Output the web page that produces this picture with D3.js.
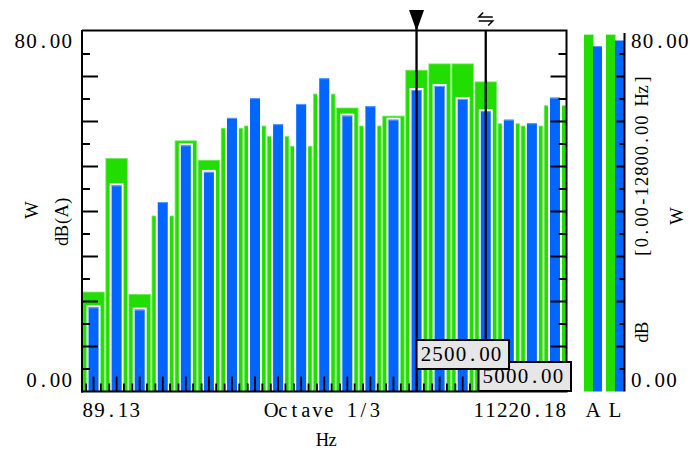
<!DOCTYPE html>
<html>
<head>
<meta charset="utf-8">
<script src="https://cdn.jsdelivr.net/npm/d3@7"></script>
<style>
  html, body { margin: 0; padding: 0; background: #fff; }
  svg { display: block; }
  text { font-family: "Liberation Serif", "DejaVu Serif", serif; fill: #000; }
</style>
</head>
<body>
<svg id="chart" width="690" height="453"></svg>
<script>
// 1/3-octave band centre frequencies (Hz)
const bands = ["100", "125", "160", "200", "250", "315", "400", "500", "630", "800",
               "1000", "1250", "1600", "2000", "2500", "3150", "4000", "5000", "6300", "8000", "10000"];
// band levels, dB (wide green series)
const levelGreen = [22.1, 51.8, 21.6, 39.0, 55.7, 51.4, 58.5, 59.0, 56.7, 54.5,
                    66.1, 63.0, 59.0, 61.2, 71.4, 72.8, 72.8, 68.8, 59.5, 59.0, 63.5];
// band levels, dB (narrow blue series)
const levelBlue = [18.7, 45.8, 18.2, 42.1, 54.7, 48.8, 60.8, 65.2, 59.4, 63.9,
                   69.6, 61.3, 63.4, 60.4, 67.0, 67.9, 65.0, 62.3, 60.4, 59.6, 65.3];

// overall levels over the whole range
const totalGroups = ["A", "L"];
const totalGreen = [79.3, 79.3];
const totalBlue = [76.7, 78.0];

// axis labels
const yTickLabels = ["0.00", "80.00"];
const xEdgeLabels = ["89.13", "11220.18"];
const xCenterLabel = "Octave 1/3";
const xTitle = "Hz";
const leftTitles = ["W", "dB(A)"];
const rightTitles = ["dB", "[0.00-12800.00 Hz]", "W"];

// cursors
const cursorBands = ["2500", "5000"];
const cursorLabels = ["2500.00", "5000.00"];

const GREEN = "#22dd00";
const BLUE = "#0066ff";

const svg = d3.select("#chart");
svg.append("rect").attr("width", 690).attr("height", 453).attr("fill", "#fff");

// Text laid out on a fixed character grid (every glyph centred in its own cell).
function cellText(parent, str, x0, y0, size, cell, anchor, transform) {
  const n = str.length;
  const start = anchor === "end" ? x0 - n * cell : anchor === "middle" ? x0 - n * cell / 2 : x0;
  const xs = Array.from(str, (_, i) => (start + (i + 0.5) * cell).toFixed(2));
  const t = parent.append("text")
    .attr("x", xs.join(" "))
    .attr("y", y0)
    .attr("text-anchor", "middle")
    .attr("font-size", size)
    .text(str);
  if (transform) t.attr("transform", transform).attr("dominant-baseline", "central");
  return t;
}
const NUM_SIZE = 21, NUM_CELL = 11.7;
const TITLE_SIZE = 18.5, TITLE_CELL = 10.2;

const plotL = 82, plotR = 566.5, plotT = 31.5, plotB = 391.5;

const x = d3.scaleBand().domain(bands).range([plotL, plotR]).padding(0);
const y = d3.scaleLinear().domain([0, 80]).range([plotB, plotT]);
const bw = x.bandwidth();
const cx = b => x(b) + bw / 2;

const rows = bands.map((b, i) => ({ b, g: levelGreen[i], l: levelBlue[i] }));

// green bars (full band width)
svg.append("g").selectAll("rect").data(rows).join("rect")
  .attr("x", d => x(d.b) + 0.8)
  .attr("width", bw - 1.6)
  .attr("y", d => y(d.g))
  .attr("height", d => plotB - y(d.g))
  .attr("fill", GREEN)
  .attr("stroke", "#74ea62")
  .attr("stroke-width", 0.8);

// white halo behind the blue bars
svg.append("g").selectAll("rect").data(rows).join("rect")
  .attr("x", d => cx(d.b) - 7)
  .attr("width", 14)
  .attr("y", d => y(d.l) - 2)
  .attr("height", d => plotB - y(d.l) + 2)
  .attr("fill", "#fff");

// blue bars (narrow, centred)
svg.append("g").selectAll("rect").data(rows).join("rect")
  .attr("x", d => cx(d.b) - 5)
  .attr("width", 10)
  .attr("y", d => y(d.l))
  .attr("height", d => plotB - y(d.l))
  .attr("fill", BLUE);
svg.append("g").selectAll("line").data(rows).join("line")
  .attr("x1", d => cx(d.b) - 5).attr("x2", d => cx(d.b) + 5)
  .attr("y1", d => y(d.l) + 0.5).attr("y2", d => y(d.l) + 0.5)
  .attr("stroke", "#5c9dff").attr("stroke-width", 1);

// frame
const frame = svg.append("g").attr("stroke", "#000").attr("stroke-width", 2).attr("fill", "none");
frame.append("path").attr("d", `M${plotL},30.5 H${plotR} V${plotB}`);
frame.append("line").attr("x1", plotL).attr("x2", plotL).attr("y1", 30).attr("y2", plotB + 1);
frame.append("line").attr("x1", plotL - 1).attr("x2", plotR + 1).attr("y1", plotB).attr("y2", plotB);

// y ticks inside the frame, left and right
const yTicks = d3.range(5, 80, 5);
const tickLen = v => (v % 10 === 0 ? 16 : 8);
svg.append("g").selectAll("line").data(yTicks).join("line")
  .attr("x1", plotL).attr("x2", v => plotL + tickLen(v))
  .attr("y1", v => y(v)).attr("y2", v => y(v))
  .attr("stroke", "#000").attr("stroke-width", 2);
svg.append("g").selectAll("line").data(yTicks).join("line")
  .attr("x1", plotR).attr("x2", v => plotR - tickLen(v))
  .attr("y1", v => y(v)).attr("y2", v => y(v))
  .attr("stroke", "#000").attr("stroke-width", 2);

// x ticks: band centre (long) and two short ones either side
const xTicks = [];
bands.forEach(b => {
  xTicks.push({ x: cx(b), len: 15 });
  xTicks.push({ x: cx(b) - 7.3, len: 8 });
  xTicks.push({ x: cx(b) + 7.3, len: 8 });
});
svg.append("g").selectAll("line").data(xTicks).join("line")
  .attr("x1", d => d.x).attr("x2", d => d.x)
  .attr("y1", plotB).attr("y2", d => plotB - d.len)
  .attr("stroke", "#000").attr("stroke-width", 1.8);

const labels = svg.append("g");

// y labels
cellText(labels, yTickLabels[0], 72.5, 387, NUM_SIZE, NUM_CELL, "end");
cellText(labels, yTickLabels[1], 72.5, 48, NUM_SIZE, NUM_CELL, "end");

// left titles (rotated)
cellText(labels, leftTitles[0], 0, 0, TITLE_SIZE, TITLE_CELL, "middle", "translate(32,210) rotate(-90)");
cellText(labels, leftTitles[1], 0, 0, TITLE_SIZE, TITLE_CELL, "middle", "translate(62,221) rotate(-90)");

// x labels
cellText(labels, xEdgeLabels[0], plotL, 416.5, NUM_SIZE, NUM_CELL, "start");
cellText(labels, xEdgeLabels[1], plotR, 416.5, NUM_SIZE, NUM_CELL, "end");
cellText(labels, xCenterLabel, 323, 416.5, 20.5, 11.5, "middle");
cellText(labels, xTitle, 327.5, 446, TITLE_SIZE, TITLE_CELL, "middle");

// cursors
const boxW = 92.5, boxH = 29, boxLimit = 571;
const cursorG = svg.append("g");
cursorBands.forEach((b, i) => {
  cursorG.append("line")
    .attr("x1", cx(b)).attr("x2", cx(b))
    .attr("y1", i === 0 ? 12 : 30).attr("y2", plotB)
    .attr("stroke", "#000").attr("stroke-width", 2.3);
});
// cursor markers
const c0 = cx(cursorBands[0]);
cursorG.append("path")
  .attr("d", `M${c0 - 7.5},10 L${c0 + 7.5},10 L${c0},31 Z`).attr("fill", "#000");
const c1 = cx(cursorBands[1]);
cursorG.append("path")
  .attr("d", `M${c1 - 2.5},12.5 L${c1 - 7},17 L${c1 + 7},17 M${c1 - 7},21 L${c1 + 7},21 L${c1 + 2.5},25.5`)
  .attr("fill", "none").attr("stroke", "#000").attr("stroke-width", 1.5);

// value boxes, drawn back to front
d3.range(cursorBands.length).reverse().forEach(i => {
  const bx = Math.min(cx(cursorBands[i]), boxLimit - boxW);
  const by = 340 + i * 22;
  cursorG.append("rect").attr("x", bx).attr("y", by).attr("width", boxW).attr("height", boxH)
    .attr("fill", "#e6e6e6").attr("stroke", "#000").attr("stroke-width", 2);
  cellText(cursorG, cursorLabels[i], bx + 3.5, by + 20.5, NUM_SIZE, NUM_CELL, "start");
});

// overall-level panel
const px = d3.scaleBand().domain(totalGroups).range([584, 624]).paddingInner(0.18).paddingOuter(0);
const pw = px.bandwidth();
const totals = totalGroups.map((g, i) => ({ g, a: totalGreen[i], l: totalBlue[i] }));
svg.append("g").selectAll("rect").data(totals).join("rect")
  .attr("x", d => px(d.g)).attr("width", pw / 2 + 0.5)
  .attr("y", d => y(d.a)).attr("height", d => plotB - y(d.a))
  .attr("fill", GREEN);
svg.append("g").selectAll("rect").data(totals).join("rect")
  .attr("x", d => px(d.g) + pw / 2).attr("width", pw / 2)
  .attr("y", d => y(d.l)).attr("height", d => plotB - y(d.l))
  .attr("fill", BLUE);

const axR = 624.5;
svg.append("line").attr("x1", axR).attr("x2", axR).attr("y1", 33).attr("y2", plotB)
  .attr("stroke", "#000").attr("stroke-width", 2);
svg.append("g").selectAll("line").data(yTicks).join("line")
  .attr("x1", axR).attr("x2", v => axR - (v % 10 === 0 ? 8 : 5))
  .attr("y1", v => y(v)).attr("y2", v => y(v))
  .attr("stroke", "#000").attr("stroke-width", 2);

cellText(labels, yTickLabels[1], 630.5, 48, NUM_SIZE, NUM_CELL, "start");
cellText(labels, yTickLabels[0], 630.5, 387, NUM_SIZE, NUM_CELL, "start");

totalGroups.forEach(g => cellText(labels, g, px(g) + pw / 2, 416.5, NUM_SIZE, NUM_CELL, "middle"));

cellText(labels, rightTitles[0], 0, 0, TITLE_SIZE, TITLE_CELL, "middle", "translate(642,333) rotate(-90)");
cellText(labels, rightTitles[1], 0, 0, TITLE_SIZE, TITLE_CELL, "middle", "translate(642,166) rotate(-90)");
cellText(labels, rightTitles[2], 0, 0, TITLE_SIZE, TITLE_CELL, "middle", "translate(677,216) rotate(-90)");
</script>
</body>
</html>
